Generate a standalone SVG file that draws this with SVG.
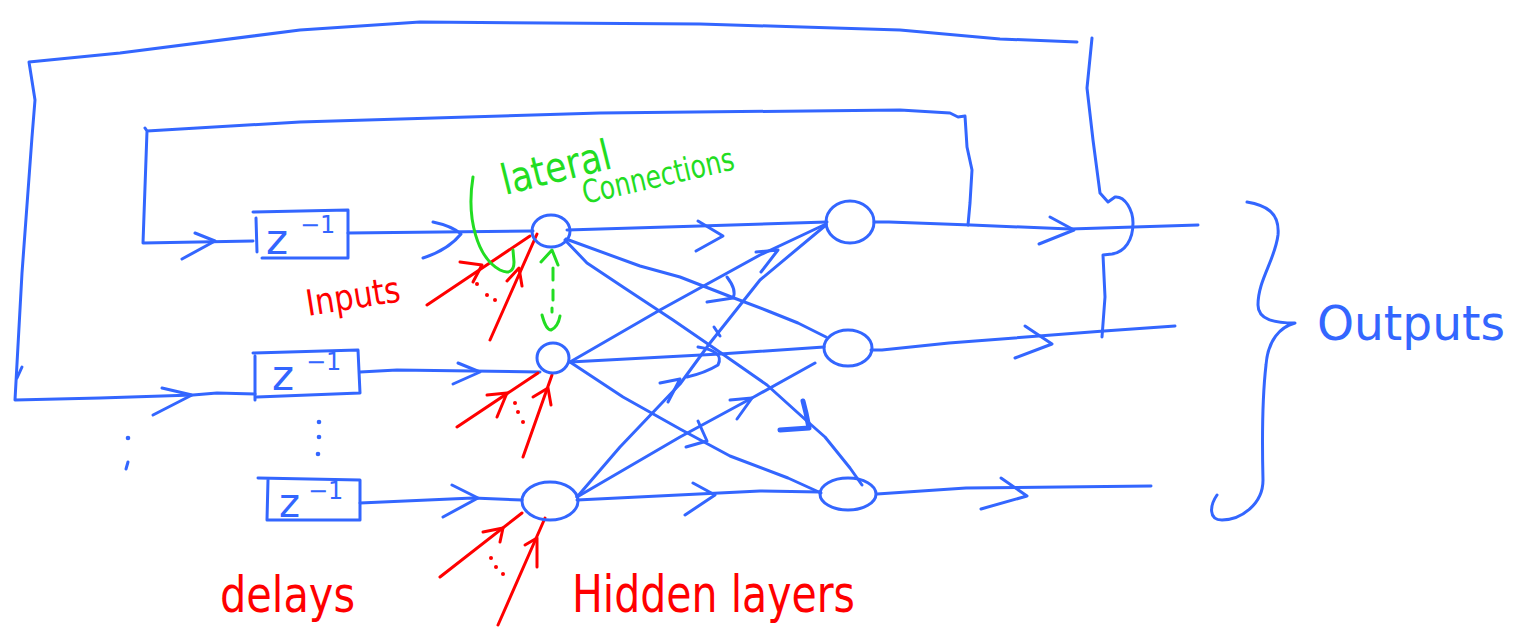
<svg xmlns="http://www.w3.org/2000/svg" width="1513" height="630" viewBox="0 0 1513 630">
<style>
.b{stroke:#3366ff;stroke-width:3;fill:none;stroke-linecap:round;stroke-linejoin:round}
.bt{stroke:#3366ff;stroke-width:5;fill:none;stroke-linecap:round;stroke-linejoin:round}
.r{stroke:#ff0000;stroke-width:3;fill:none;stroke-linecap:round;stroke-linejoin:round}
.g{stroke:#22dd22;stroke-width:3;fill:none;stroke-linecap:round;stroke-linejoin:round}
.dotb{fill:#3366ff}
.dotr{fill:#ff0000}
.zt{font-family:"DejaVu Sans","Liberation Sans",sans-serif;fill:#3366ff}
.lr{font-family:"DejaVu Sans","Liberation Sans",sans-serif;fill:#ff0000}
.lg{font-family:"DejaVu Sans","Liberation Sans",sans-serif;fill:#22dd22}
.lb{font-family:"DejaVu Sans","Liberation Sans",sans-serif;fill:#3366ff}
</style>
<rect width="1513" height="630" fill="#ffffff"/>

<g id="connectors">
  <!-- outer feedback loop -->
  <path class="b" d="M1077,42 L1000,39 L900,30 L700,24 L420,22 L300,30 L120,53 L29,62 L35,100 L32,137 L22,273 L15,400 L100,398 L193,395 L217,393 L255,394"/>
  <path class="b" d="M22,367 L17,378"/>
  <path class="b" d="M162,388 L192,395 L153,415"/>
  <path class="b" d="M1092,38 L1087,88 L1093,140 L1100,193 L1108,202 L1115,197 C1125,196 1133,210 1133,223 C1133,240 1125,252 1112,254 L1103,255 L1105,297 L1102,337"/>
  <!-- inner feedback loop -->
  <path class="b" d="M968,225 L970,203 L972,170 L967,147 L965,116 L958,117 L950,113 L900,110 L600,113 L300,122 L147,131 L145,128 M147,131 L143,243 L253,241"/>
  <path class="b" d="M195,233 L215,241 L182,259"/>
  <!-- delays to hidden -->
  <path class="b" d="M348,233 L533,231"/>
  <path class="b" d="M433,222 Q452,226 461,234 Q448,250 423,258"/>
  <path class="b" d="M360,372 L397,370 L540,372"/>
  <path class="b" d="M458,363 L480,372 L453,384"/>
  <path class="b" d="M360,503 L473,498 L522,500"/>
  <path class="b" d="M452,485 L478,498 L443,517"/>
  <!-- hidden to output -->
  <path class="b" d="M567,230 L700,226 L827,222"/>
  <path class="b" d="M698,221 L723,236 L696,251"/>
  <path class="b" d="M566,239 L640,266 L680,277 L734,298 L768,311 L798,323 L826,337"/>
  <path class="b" d="M727,277 Q737,290 733,298 L707,302"/>
  <path class="b" d="M565,240 L587,263 L623,287 L673,320 L724,355 L767,385 L808,422 L825,437 L850,468 L862,485"/>
  <path class="bt" d="M803,401 L806,413 L809,428 L780,430"/>
  <path class="b" d="M570,362 L660,310 L760,255 L826,224"/>
  <path class="b" d="M756,252 L778,250 L761,272"/>
  <path class="b" d="M570,362 L720,354 L824,347"/>
  <path class="b" d="M698,347 Q725,351 718,365 Q705,373 687,377"/>
  <path class="b" d="M570,362 L623,397 L680,429 L730,456 L788,478 L821,493"/>
  <path class="b" d="M698,421 L707,441 L686,447"/>
  <path class="b" d="M577,497 L620,447 L680,384 L710,343 L760,280 L826,225"/>
  <path class="b" d="M660,383 L680,379 L668,402"/>
  <path class="b" d="M714,327 L720,336"/>
  <path class="b" d="M577,497 L680,437 L752,398 L815,363"/>
  <path class="b" d="M730,400 L752,398 L737,419"/>
  <path class="b" d="M577,500 L760,491 L820,492"/>
  <path class="b" d="M693,483 L715,495 L685,515"/>
  <!-- outputs -->
  <path class="b" d="M874,222 L889,222 L971,225 L1070,229 L1198,225"/>
  <path class="b" d="M1050,217 L1074,230 L1039,244"/>
  <path class="b" d="M871,350 L882,350 L949,343 L1104,331 L1175,326"/>
  <path class="b" d="M1025,326 L1052,344 L1015,358"/>
  <path class="b" d="M877,494 L966,488 L1151,486"/>
  <path class="b" d="M1001,478 L1027,496 L981,509"/>
  <!-- red inputs -->
  <path class="r" d="M427,305 L530,236"/>
  <path class="r" d="M460,262 L482,265 L473,282"/>
  <path class="r" d="M490,340 L537,234"/>
  <path class="r" d="M507,281 L519,268 L522,286"/>
  <path class="r" d="M457,427 L538,373"/>
  <path class="r" d="M487,395 L507,393 L497,417"/>
  <path class="r" d="M523,457 L552,375"/>
  <path class="r" d="M533,397 L548,388 L551,405"/>
  <path class="r" d="M440,577 L522,513"/>
  <path class="r" d="M483,532 L503,528 L500,542"/>
  <path class="r" d="M498,625 L545,518"/>
  <path class="r" d="M525,545 L537,538 L537,567"/>
  <circle class="dotr" cx="477" cy="284" r="2"/>
  <circle class="dotr" cx="487" cy="295" r="2"/>
  <circle class="dotr" cx="495" cy="300" r="2"/>
  <circle class="dotr" cx="515" cy="403" r="2"/>
  <circle class="dotr" cx="518" cy="412" r="2"/>
  <circle class="dotr" cx="523" cy="422" r="2"/>
  <circle class="dotr" cx="491" cy="558" r="2"/>
  <circle class="dotr" cx="496" cy="567" r="2"/>
  <circle class="dotr" cx="503" cy="574" r="2"/>
  <!-- lateral connections (green) -->
  <path class="g" d="M473,177 C466,220 478,258 500,270 C508,274 514,272 514,262 L513,250"/>
  <path class="g" d="M541,262 L552,250 L558,265"/>
  <path class="g" d="M553,268 L553,280 M553,290 L553,300 M552,308 L552,312"/>
  <path class="g" d="M542,315 Q546,330 551,330 Q558,327 560,316"/>
  <!-- ellipsis dots -->
  <circle class="dotb" cx="319" cy="422" r="2.3"/>
  <circle class="dotb" cx="319" cy="437" r="2.3"/>
  <circle class="dotb" cx="318" cy="454" r="2.3"/>
  <circle class="dotb" cx="128" cy="438" r="2.3"/>
  <path class="b" d="M128,462 L126,469"/>
  <!-- outputs brace -->
  <path class="b" d="M1247,202 C1265,205 1280,212 1278,235 C1275,260 1258,280 1258,305 C1258,320 1275,323 1295,323 C1280,327 1268,340 1266,365 C1262,400 1262,440 1263,480 C1263,505 1240,520 1222,520 C1208,520 1210,505 1217,495"/>
</g>

<g id="delay1">
  <path class="b" d="M253,212 L348,210 L348,258 L262,258 M256,218 L257,252"/>
  <text class="zt"><tspan x="266" y="254" font-size="42">z</tspan><tspan x="300" y="233" font-size="24">−1</tspan></text>
</g>
<g id="delay2">
  <path class="b" d="M253,353 L358,350 L360,393 L257,397 M255,356 L255,400"/>
  <text class="zt"><tspan x="272" y="390" font-size="42">z</tspan><tspan x="306" y="370" font-size="24">−1</tspan></text>
</g>
<g id="delay3">
  <path class="b" d="M258,478 L360,480 L360,520 L267,520 L268,480"/>
  <text class="zt"><tspan x="279" y="517" font-size="40">z</tspan><tspan x="308" y="499" font-size="24">−1</tspan></text>
</g>

<g id="hidden1"><ellipse class="b" cx="551" cy="231" rx="19" ry="16"/></g>
<g id="hidden2"><ellipse class="b" cx="553" cy="358" rx="16" ry="15"/></g>
<g id="hidden3"><ellipse class="b" cx="550" cy="501" rx="28" ry="19"/></g>
<g id="output1"><ellipse class="b" cx="850" cy="222" rx="24" ry="21"/></g>
<g id="output2"><ellipse class="b" cx="848" cy="348" rx="24" ry="18"/></g>
<g id="output3"><ellipse class="b" cx="848" cy="494" rx="28" ry="16"/></g>

<g id="labels">
  <text class="lr" x="308" y="316" font-size="36" textLength="95" lengthAdjust="spacingAndGlyphs" transform="rotate(-9 308 316)">Inputs</text>
  <text class="lr" x="220" y="612" font-size="50" textLength="135" lengthAdjust="spacingAndGlyphs">delays</text>
  <text class="lr" x="572" y="612" font-size="52" textLength="283" lengthAdjust="spacingAndGlyphs">Hidden layers</text>
  <text class="lg" x="505" y="195" font-size="42" textLength="112" lengthAdjust="spacingAndGlyphs" transform="rotate(-14 505 195)">lateral</text>
  <text class="lg" x="585" y="204" font-size="32" textLength="155" lengthAdjust="spacingAndGlyphs" transform="rotate(-13 585 204)">Connections</text>
  <text class="lb" x="1317" y="340" font-size="48" textLength="188" lengthAdjust="spacingAndGlyphs">Outputs</text>
</g>
</svg>
